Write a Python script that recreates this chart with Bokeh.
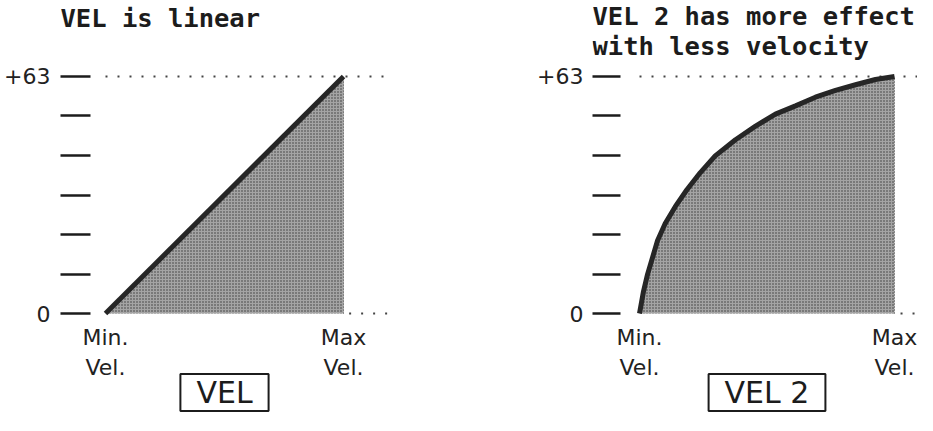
from bokeh.plotting import figure
from bokeh.layouts import row
from bokeh.models import Label, Range1d, FixedTicker
from bokeh.core.properties import value
from bokeh.embed import file_html
from bokeh.resources import INLINE

# ---- data ----
y_ticks = [0, 10.5, 21, 31.5, 42, 52.5, 63]
y_tick_text = {0: "0", 63: "+63"}
x_ticks = [0, 127]
x_tick_text = ["Min.\nVel.", "Max\nVel."]

vel_linear = [0, 127]
level_linear = [0, 63]

vel_curve = [0, 2.0, 4.0, 6.5, 9.0, 12.8, 17.8, 23.6, 30.2, 37.7, 47.8,
             57.8, 67.7, 77.7, 87.6, 97.6, 107.6, 117.5, 127]
level_curve = [0, 5.9, 10.4, 14.9, 19.4, 23.9, 28.4, 32.9, 37.4, 41.9, 46.2,
               49.8, 53.0, 55.2, 57.5, 59.3, 60.8, 62.2, 63]

title_lines = [["VEL is linear"], ["VEL 2 has more effect", "with less velocity"]]
names = ["VEL", "VEL 2"]

TICK_FONT = "DejaVu Sans"
TITLE_FONT = "DejaVu Sans Mono"
INK = "#1c1c1c"

Y_START, Y_END = -27.11, 83.2


def panel(lines, vel, level, name, width, border_left, border_right,
          x_start, x_end, label_standoff, tick_len, title_dx, title_dy,
          dots_end):
    p = figure(width=width, height=415,
               x_range=Range1d(x_start, x_end), y_range=Range1d(Y_START, Y_END),
               x_axis_location=None,
               output_backend="svg", toolbar_location=None,
               min_border_left=border_left, min_border_right=border_right,
               min_border_top=0, min_border_bottom=0)
    p.outline_line_color = None
    p.background_fill_color = "white"
    p.border_fill_color = "white"
    p.xgrid.visible = False
    p.ygrid.visible = False

    # y axis: short dashes drawn inward from the frame edge
    ya = p.yaxis[0]
    ya.ticker = FixedTicker(ticks=y_ticks, minor_ticks=[])
    ya.major_label_overrides = {t: y_tick_text.get(t, "") for t in y_ticks}
    ya.axis_line_color = None
    ya.major_tick_out = 0
    ya.major_tick_in = tick_len
    ya.major_tick_line_width = 2.5
    ya.major_tick_line_color = INK
    ya.minor_tick_line_color = None
    ya.major_label_standoff = label_standoff
    ya.major_label_text_font = TICK_FONT
    ya.major_label_text_font_size = "22px"
    ya.major_label_text_color = "#222222"

    top = max(level)
    vmax = max(vel)
    vmid = (min(vel) + vmax) / 2

    # title (bold, Chicago-like)
    p.text(x=[0] * len(lines), y=[top] * len(lines), text=lines,
           x_offset=title_dx, y_offset=[title_dy + 30 * i for i in range(len(lines))],
           text_align="left", text_baseline="alphabetic",
           text_font=value(TITLE_FONT), text_font_style="bold",
           text_font_size="25.5px", text_color=INK)

    # dotted guide lines
    p.line([0, dots_end], [top, top], line_dash="2 10", line_width=2, line_color="#444444")
    p.line([vmax + 3, dots_end], [0, 0], line_dash="2 10", line_width=2, line_color="#444444")

    # stippled area
    p.varea(x=vel, y1=[0] * len(vel), y2=level, fill_color="#a4a4a4",
            hatch_pattern="dot", hatch_color="#383838", hatch_scale=3, hatch_weight=1.3)
    p.line([vmax, vmax], [0, top], line_dash="1 2", line_width=1, line_color="#444444")
    p.line(vel, level, line_width=5, line_color="#262626")

    # Min. / Max labels under the ends of the velocity range
    p.text(x=x_ticks, y=[0, 0], text=x_tick_text, y_offset=11,
           text_align="center", text_baseline="top",
           text_font=value(TICK_FONT), text_font_size="22px",
           text_color="#222222", text_line_height=1.21)

    # boxed parameter name (with a small drop shadow)
    shadow = Label(x=vmid, y=0, text=name, x_offset=3, y_offset=-82,
                   text_align="center", text_baseline="middle",
                   text_font=TICK_FONT, text_font_size="30px", text_alpha=0.0,
                   border_line_color=INK, border_line_width=2,
                   background_fill_color=INK,
                   padding=dict(left=16, right=16, top=1, bottom=1))
    lab = Label(x=vmid, y=0, text=name, y_offset=-79,
                text_align="center", text_baseline="middle",
                text_font=TICK_FONT, text_font_size="30px", text_color=INK,
                border_line_color=INK, border_line_width=2,
                background_fill_color="white",
                padding=dict(left=16, right=16, top=1, bottom=1))
    p.add_layout(shadow)
    p.add_layout(lab)
    return p


p1 = panel(title_lines[0], vel_linear, level_linear, names[0], 456, 60, 66,
           -24.01, 152.08, 10, 30, -45, -58, 151)
p2 = panel(title_lines[1], vel_curve, level_curve, names[1], 461, 136, 0,
           -23.41, 138.45, 9, 28, -47, -60, 138.45)

layout = row(p1, p2)
open("out.html", "w").write(file_html(layout, INLINE))
